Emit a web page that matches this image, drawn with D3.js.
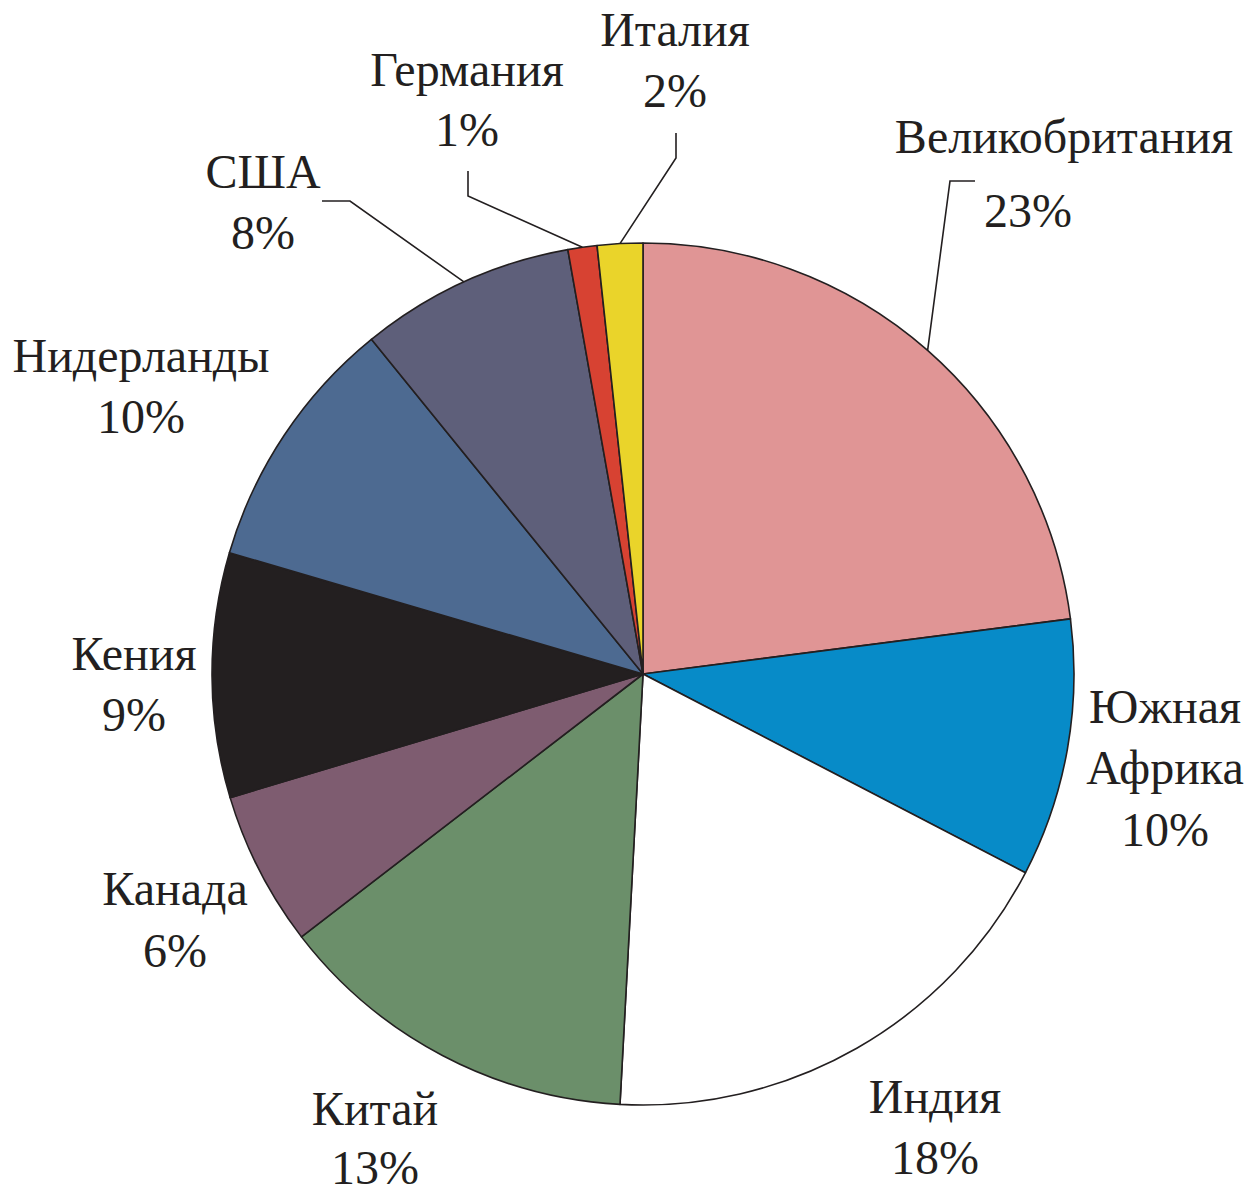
<!DOCTYPE html>
<html>
<head>
<meta charset="utf-8">
<script src="https://cdn.jsdelivr.net/npm/d3@7"></script>
<style>
  html, body { margin: 0; padding: 0; background: #ffffff; }
  svg { display: block; }
</style>
</head>
<body>
<svg id="chart" width="1258" height="1191"></svg>
<script>
// ---- data ----
const countries = ["Великобритания", "Южная Африка", "Индия", "Китай", "Канада", "Кения", "Нидерланды", "США", "Германия", "Италия"];
const shares = [22.96, 9.67, 18.22, 13.71, 5.81, 9.17, 9.61, 8.06, 1.09, 1.70];
const percentLabels = ["23%", "10%", "18%", "13%", "6%", "9%", "10%", "8%", "1%", "2%"];
const colors = ["#E09595", "#078BC8", "#FFFFFF", "#6B8F6A", "#7E5C70", "#231F20", "#4D6A91", "#5E5F7A", "#D74232", "#EAD42A"];

// ---- layout ----
const cx = 643, cy = 674, R = 431;
const ink = "#231F20";
const fontSize = 48;
const fontFamily = '"Liberation Serif"';

const labelLayout = [
  { lines: [["Великобритания", 1064, 153], ["23%", 1028, 227]], leader: [[975, 181], [950, 181]] },
  { lines: [["Южная", 1165, 723], ["Африка", 1165, 784], ["10%", 1165, 846]] },
  { lines: [["Индия", 935, 1113], ["18%", 935, 1174]] },
  { lines: [["Китай", 375, 1125], ["13%", 375, 1184]] },
  { lines: [["Канада", 175, 905], ["6%", 175, 967]] },
  { lines: [["Кения", 134, 670], ["9%", 134, 731]] },
  { lines: [["Нидерланды", 141, 372], ["10%", 141, 433]] },
  { lines: [["США", 263, 188], ["8%", 263, 249]], leader: [[322, 201], [350, 201]] },
  { lines: [["Германия", 467, 86], ["1%", 467, 146]], leader: [[468, 171], [468, 196]] },
  { lines: [["Италия", 675, 46], ["2%", 675, 107]], leader: [[676, 133], [676, 158]] }
];

const svg = d3.select("#chart");
const g = svg.append("g").attr("transform", `translate(${cx},${cy})`);

const data = countries.map((c, i) => ({ name: c, value: shares[i], color: colors[i], pct: percentLabels[i], layout: labelLayout[i] }));

const pie = d3.pie().sort(null).value(d => d.value).startAngle(0).endAngle(2 * Math.PI);
const arcs = pie(data);
const arc = d3.arc().innerRadius(0).outerRadius(R);
const edgeArc = d3.arc().innerRadius(R).outerRadius(R);

g.selectAll("path.slice")
  .data(arcs)
  .join("path")
  .attr("class", "slice")
  .attr("d", arc)
  .attr("fill", d => d.data.color)
  .attr("stroke", ink)
  .attr("stroke-width", 1.6)
  .attr("stroke-linejoin", "round");

const line = d3.line();
arcs.forEach(a => {
  const L = a.data.layout;
  if (!L.leader) return;
  const e = edgeArc.centroid(a);
  const pts = L.leader.map(p => [p[0], p[1]]).concat([[e[0] + cx, e[1] + cy]]);
  svg.append("path")
    .attr("d", line(pts))
    .attr("fill", "none")
    .attr("stroke", ink)
    .attr("stroke-width", 1.6);
});

arcs.forEach(a => {
  const L = a.data.layout;
  L.lines.forEach(([txt, x, y]) => {
    svg.append("text")
      .attr("x", x)
      .attr("y", y)
      .attr("text-anchor", "middle")
      .style("font-family", fontFamily)
      .style("font-size", fontSize + "px")
      .style("fill", ink)
      .text(txt);
  });
});
</script>
</body>
</html>
